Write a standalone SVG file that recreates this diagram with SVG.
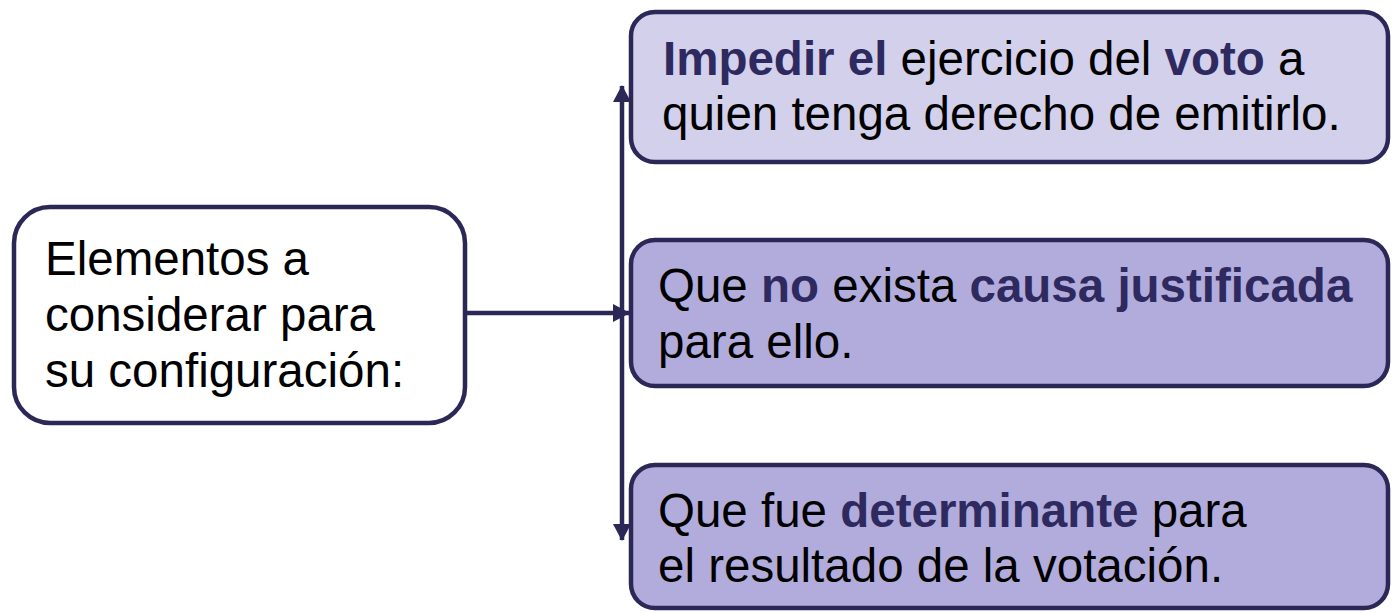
<svg xmlns="http://www.w3.org/2000/svg" width="1392" height="613" viewBox="0 0 1392 613">
<style>
.box{stroke:#2b2858;stroke-width:4.5}
.b1{fill:#d3d0ec}
.b2{fill:#b2acdc}
.t{font-family:"Liberation Sans",Arial,sans-serif;font-size:47.5px;fill:#000}
.k{font-weight:bold;fill:#2e2a5f}
.con{stroke:#2b2858;stroke-width:4.5;fill:none}
</style>
<defs>
<marker id="ah" markerUnits="userSpaceOnUse" markerWidth="18" markerHeight="20" refX="16" refY="9" orient="auto">
<path d="M0,0 L17,9 L0,18 Z" fill="#2b2858"/>
</marker>
</defs>
<rect width="1392" height="613" fill="#fff"/>
<g id="connectors">
<line class="con" x1="466" y1="313" x2="629" y2="313" marker-end="url(#ah)"/>
<line class="con" x1="622" y1="313" x2="622" y2="86" marker-end="url(#ah)"/>
<line class="con" x1="622" y1="313" x2="622" y2="540" marker-end="url(#ah)"/>
</g>
<g id="node-main">
<rect class="box" x="14" y="207" width="451" height="216" rx="36" fill="#fff"/>
<text class="t" x="45" y="275">Elementos a</text>
<text class="t" x="45" y="331">considerar para</text>
<text class="t" x="45" y="387">su configuración:</text>
</g>
<g id="node-1">
<rect class="box b1" x="631" y="12" width="757" height="150" rx="24"/>
<text class="t" x="663" y="75"><tspan class="k">Impedir el</tspan> ejercicio del <tspan class="k">voto</tspan> a</text>
<text class="t" x="662" y="130">quien tenga derecho de emitirlo.</text>
</g>
<g id="node-2">
<rect class="box b2" x="631" y="240" width="757" height="146" rx="24"/>
<text class="t" x="658" y="302">Que <tspan class="k">no</tspan> exista <tspan class="k">causa justificada</tspan></text>
<text class="t" x="658" y="358">para ello.</text>
</g>
<g id="node-3">
<rect class="box b2" x="631" y="465" width="757" height="143" rx="24"/>
<text class="t" x="658" y="527">Que fue <tspan class="k">determinante</tspan> para</text>
<text class="t" x="658" y="582">el resultado de la votación.</text>
</g>
</svg>
